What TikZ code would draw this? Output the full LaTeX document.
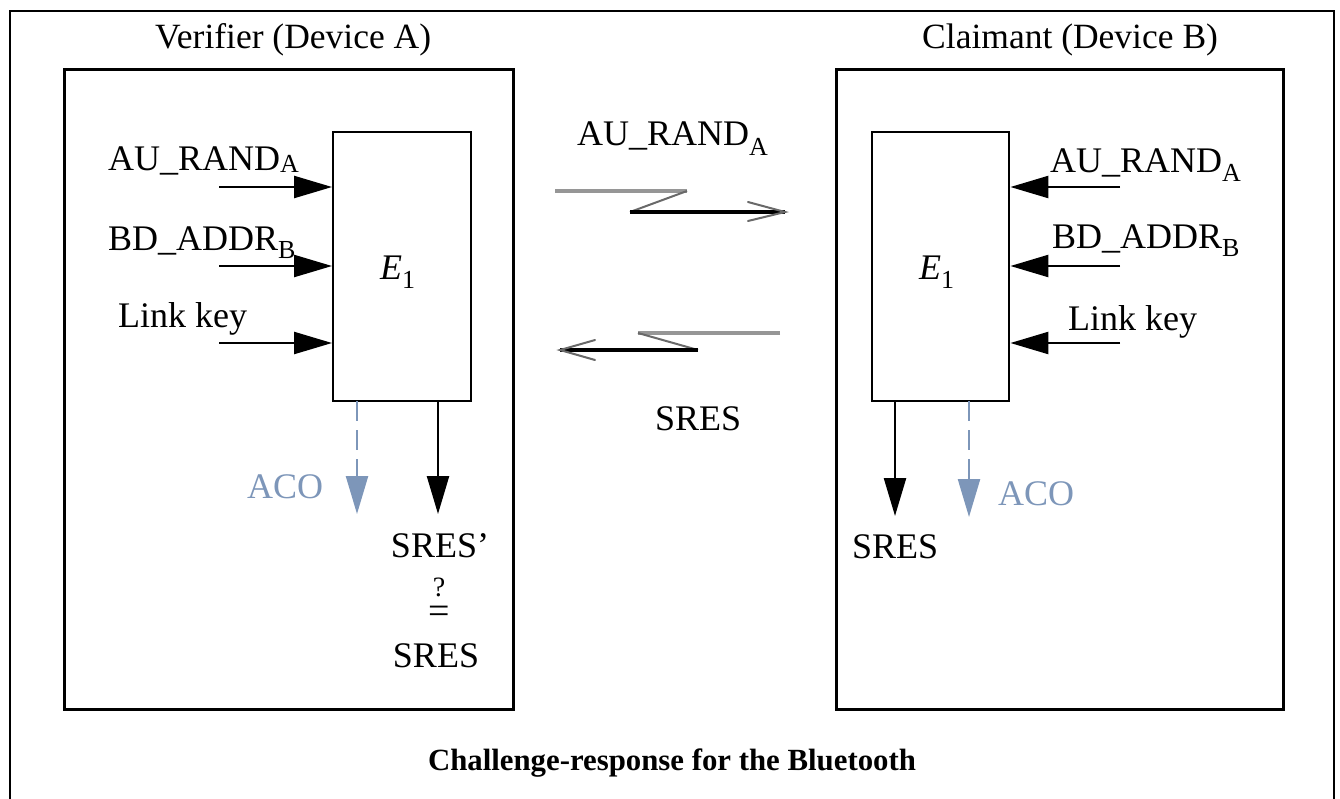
\documentclass[tikz,border=0pt]{standalone}
\usepackage{fontspec}
\setmainfont{Liberation Serif}
\usetikzlibrary{arrows.meta}
\definecolor{acoblue}{RGB}{125,150,185}
\definecolor{midgray}{RGB}{150,150,150}
\newcommand\lblfont{\fontsize{36}{40}\selectfont}
\newcommand\ttlfont{\fontsize{35.5}{40}\selectfont}
\newcommand\subtxt[2]{\raisebox{-#1}{\fontsize{26}{26}\selectfont #2}}
\begin{document}
\begin{tikzpicture}[x=1pt,y=-1pt,
  frame/.style={line width=2pt},
  devbox/.style={draw, line width=2.6pt, inner sep=0pt, anchor=north west},
  ebox/.style={draw, line width=2.4pt, inner sep=0pt, anchor=north west},
  inarrow/.style={line width=2.4pt, -{Triangle[length=38pt,width=22pt]}},
  outarrow/.style={line width=2.4pt, -{Triangle[length=38pt,width=22pt]}},
  acoarrow/.style={acoblue, line width=2.4pt, dash pattern=on 20pt off 9pt, -{Triangle[length=38pt,width=22pt]}},
  lbl/.style={inner sep=0pt, anchor=base west, font=\lblfont},
  grayline/.style={midgray, line width=3.5pt},
  thinline/.style={midgray!70!black, line width=2pt},
  blackline/.style={black, line width=3.6pt}
]
\useasboundingbox (0,0) rectangle (1340,798);
% outer frame
\coordinate (fbl) at (10,805);
\coordinate (ftl) at (10,11);
\coordinate (ftr) at (1334,11);
\coordinate (fbr) at (1334,805);
\draw[frame] (fbl) -- (ftl) -- (ftr) -- (fbr);

% device boxes
\node[devbox, minimum width=449pt, minimum height=640pt] (devA) at (63,68) {};
\node[devbox, minimum width=447pt, minimum height=640pt] (devB) at (835,68) {};
\node[inner sep=0pt, anchor=base west, font=\ttlfont] (ttlA) at (155,48) {Verifier (Device A)};
\node[inner sep=0pt, anchor=base west, font=\ttlfont] (ttlB) at (922,48) {Claimant (Device B)};

% E1 boxes
\node[ebox, minimum width=138pt, minimum height=269pt] (eA) at (332,131) {};
\node[ebox, minimum width=137pt, minimum height=269pt] (eB) at (871,131) {};
\node[lbl] (eAl) at (380,279) {\textit{E}\subtxt{9pt}{1}};
\node[lbl] (eBl) at (919,279) {\textit{E}\subtxt{9pt}{1}};

% left inputs
\node[lbl] (lA1) at (108,170) {AU\_RAND\subtxt{2pt}{A}};
\node[lbl] (lA2) at (108,250) {BD\_ADDR\subtxt{8pt}{B}};
\node[lbl] (lA3) at (118,327) {Link key};
\coordinate (sA1) at (219,187);
\coordinate (sA2) at (219,266);
\coordinate (sA3) at (219,343);
\draw[inarrow] (sA1) -- (eA.west |- sA1);
\draw[inarrow] (sA2) -- (eA.west |- sA2);
\draw[inarrow] (sA3) -- (eA.west |- sA3);

% right inputs
\node[lbl] (lB1) at (1050,172) {AU\_RAND\subtxt{9pt}{A}};
\node[lbl] (lB2) at (1052,248) {BD\_ADDR\subtxt{8pt}{B}};
\node[lbl] (lB3) at (1068,330) {Link key};
\coordinate (sB1) at (1120,187);
\coordinate (sB2) at (1120,266);
\coordinate (sB3) at (1120,343);
\draw[inarrow] (sB1) -- (eB.east |- sB1);
\draw[inarrow] (sB2) -- (eB.east |- sB2);
\draw[inarrow] (sB3) -- (eB.east |- sB3);

% left outputs
\coordinate (acoAs) at (357,401);
\coordinate (acoAe) at (357,514);
\coordinate (sresAs) at (438,401);
\coordinate (sresAe) at (438,514);
\draw[acoarrow] (acoAs) -- (acoAe);
\draw[outarrow] (sresAs) -- (sresAe);
\node[inner sep=0pt, anchor=base west, font=\lblfont, text=acoblue] (acoAl) at (247,498) {ACO};
\node[inner sep=0pt, anchor=base, font=\lblfont] (sresp) at (440,557) {SRES’};
\node[inner sep=0pt, anchor=base, font=\fontsize{28}{28}\selectfont] (qm) at (439,596) {?};
\node[inner sep=0pt, anchor=base, font=\fontsize{38}{38}\selectfont] (eqs) at (439,623) {=};
\node[inner sep=0pt, anchor=base, font=\lblfont] (sresA) at (436,667) {SRES};

% right outputs
\coordinate (sresBs) at (895,401);
\coordinate (sresBe) at (895,516);
\coordinate (acoBs) at (969,401);
\coordinate (acoBe) at (969,517);
\draw[outarrow] (sresBs) -- (sresBe);
\draw[acoarrow] (acoBs) -- (acoBe);
\node[inner sep=0pt, anchor=base west, font=\lblfont] (sresB) at (852,558) {SRES};
\node[inner sep=0pt, anchor=base west, font=\lblfont, text=acoblue] (acoBl) at (998,505) {ACO};

% middle: challenge
\node[lbl] (midA) at (577,145) {AU\_RAND\subtxt{10pt}{A}};
\coordinate (c1) at (555,191);
\coordinate (c2) at (687,191);
\coordinate (c3) at (630,212);
\coordinate (c4) at (785,212);
\coordinate (c5) at (748,202);
\coordinate (c6) at (748,221);
\draw[grayline] (c1) -- (c2);
\draw[thinline] (c2) -- (c3);
\draw[blackline] (c3) -- (c4);
\draw[thinline, line cap=round] (c5) -- (c4) -- (c6);

% middle: response
\node[lbl] (midS) at (655,430) {SRES};
\coordinate (r1) at (780,333);
\coordinate (r2) at (638,333);
\coordinate (r3) at (698,350);
\coordinate (r4) at (560,350);
\coordinate (r5) at (595,340);
\coordinate (r6) at (595,360);
\draw[grayline] (r1) -- (r2);
\draw[thinline] (r2) -- (r3);
\draw[blackline] (r3) -- (r4);
\draw[thinline, line cap=round] (r5) -- (r4) -- (r6);

% caption
\node[inner sep=0pt, anchor=base, font=\fontsize{30.8}{33}\selectfont\bfseries] (cap) at (672,770) {Challenge-response for the Bluetooth};
\end{tikzpicture}
\end{document}
